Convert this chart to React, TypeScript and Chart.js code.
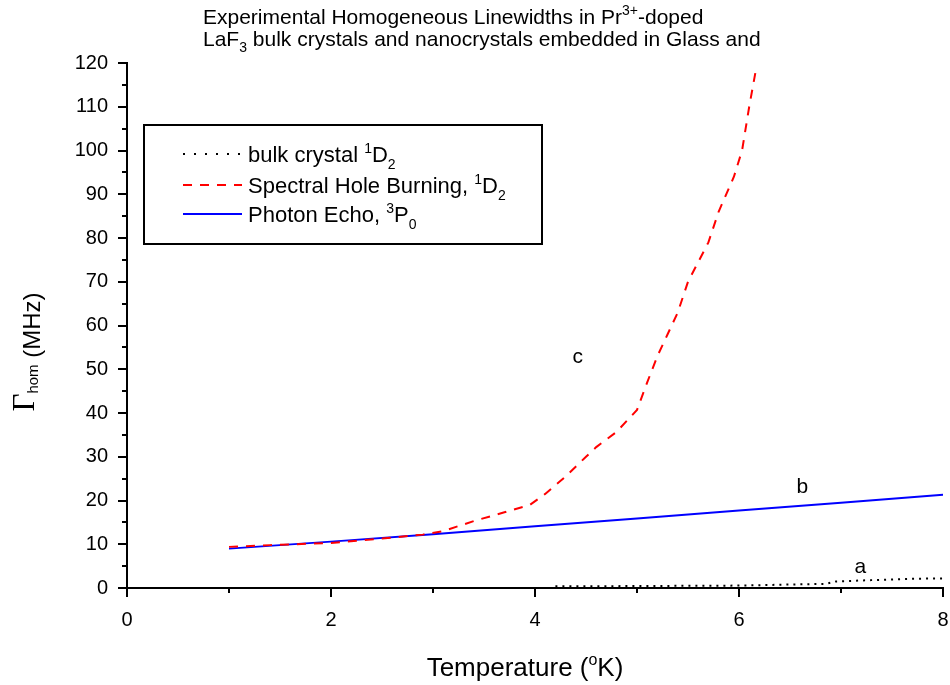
import React, { useEffect, useRef } from 'react';
import { Chart, registerables } from 'chart.js';

Chart.register(...registerables);

// ---- Data ----
const bulkT = [4.2, 4.6, 5.0, 5.5, 6.0, 6.4, 6.85, 6.95, 7.3, 7.7, 8.0];
const bulkG = [0.4, 0.4, 0.45, 0.5, 0.55, 0.75, 0.95, 1.5, 1.8, 2.1, 2.2];

const shbT = [1.0, 1.4, 2.0, 2.5, 2.9, 3.1, 3.4, 3.7, 3.95, 4.1, 4.3, 4.5, 4.6, 4.8, 5.0, 5.1, 5.2, 5.3, 5.4, 5.5, 5.6, 5.7, 5.8, 5.95, 6.03, 6.1, 6.17];
const shbG = [9.4, 9.8, 10.3, 11.3, 12.2, 13.0, 15.3, 17.3, 19.0, 21.5, 25.5, 30.0, 32.2, 35.7, 40.7, 47.0, 53.0, 58.0, 63.0, 70.0, 74.5, 79.0, 86.0, 94.0, 100.0, 110.0, 119.0];

const peT = [1.0, 2.0, 3.0, 4.0, 5.0, 6.0, 7.0, 8.0];
const peG = [9.0, 10.6, 12.3, 14.1, 15.9, 17.7, 19.5, 21.3];

const xMajorTicks = [0, 2, 4, 6, 8];
const xMinorTicks = [1, 3, 5, 7];
const yMajorTicks = [0, 10, 20, 30, 40, 50, 60, 70, 80, 90, 100, 110, 120];
const yMinorTicks = [5, 15, 25, 35, 45, 55, 65, 75, 85, 95, 105, 115];

const curveLabels = ['a', 'b', 'c'];
const curveLabelT = [7.19, 6.62, 4.42];
const curveLabelG = [4.8, 23.1, 52.8];

const SANS = '"Liberation Sans", Arial, sans-serif';
const SERIF = '"Liberation Serif", "Times New Roman", serif';

type Part = { t: string; s?: 'sup' | 'sub'; size?: number; family?: string };

function measureRich(ctx: CanvasRenderingContext2D, parts: Part[], size: number, family = SANS) {
  let w = 0;
  for (const p of parts) {
    const fs = p.size ?? (p.s ? Math.round(size * 0.62) : size);
    ctx.font = `${fs}px ${p.family ?? family}`;
    w += ctx.measureText(p.t).width;
  }
  return w;
}

function drawRich(ctx: CanvasRenderingContext2D, x: number, y: number, parts: Part[], size: number, family = SANS) {
  let cx = x;
  ctx.textAlign = 'left';
  ctx.textBaseline = 'alphabetic';
  for (const p of parts) {
    const fs = p.size ?? (p.s ? Math.round(size * 0.62) : size);
    ctx.font = `${fs}px ${p.family ?? family}`;
    let dy = 0;
    if (p.s === 'sup') dy = -size * 0.42;
    if (p.s === 'sub') dy = size * 0.3;
    ctx.fillText(p.t, cx, y + dy);
    cx += ctx.measureText(p.t).width;
  }
  return cx - x;
}

const decorPlugin = {
  id: 'decor',
  afterDraw(chart: any) {
    const ctx: CanvasRenderingContext2D = chart.ctx;
    const xs = chart.scales.x;
    const ys = chart.scales.y;
    const left = chart.chartArea.left;
    const bottom = chart.chartArea.bottom;
    ctx.save();
    ctx.strokeStyle = '#000';
    ctx.fillStyle = '#000';
    ctx.lineWidth = 2;
    ctx.setLineDash([]);
    // ticks
    ctx.beginPath();
    for (const v of yMajorTicks) {
      const p = Math.round(ys.getPixelForValue(v));
      ctx.moveTo(left - 9, p);
      ctx.lineTo(left, p);
    }
    for (const v of yMinorTicks) {
      const p = Math.round(ys.getPixelForValue(v));
      ctx.moveTo(left - 5, p);
      ctx.lineTo(left, p);
    }
    for (const v of xMajorTicks) {
      const p = Math.round(xs.getPixelForValue(v));
      ctx.moveTo(p, bottom);
      ctx.lineTo(p, bottom + 9);
    }
    for (const v of xMinorTicks) {
      const p = Math.round(xs.getPixelForValue(v));
      ctx.moveTo(p, bottom);
      ctx.lineTo(p, bottom + 5);
    }
    ctx.stroke();

    // title
    drawRich(ctx, 203, 24, [
      { t: 'Experimental Homogeneous Linewidths in Pr' },
      { t: '3+', s: 'sup', size: 14 },
      { t: '-doped' },
    ], 21);
    drawRich(ctx, 203, 46, [
      { t: 'LaF' },
      { t: '3', s: 'sub', size: 14 },
      { t: ' bulk crystals and nanocrystals embedded in Glass and' },
    ], 21);

    // x axis title
    const xParts: Part[] = [{ t: 'Temperature (' }, { t: 'o', s: 'sup' }, { t: 'K)' }];
    const xw = measureRich(ctx, xParts, 26);
    drawRich(ctx, 525 - xw / 2, 676, xParts, 26);

    // y axis title (rotated)
    const yParts: Part[] = [
      { t: '\u0393', size: 31, family: SERIF },
      { t: 'hom', size: 15 },
      { t: ' (MHz)', size: 24 },
    ];
    const yOff = [-6, -2, 0];
    ctx.save();
    const yw = measureRich(ctx, yParts, 24);
    ctx.translate(40, 352 + yw / 2);
    ctx.rotate(-Math.PI / 2);
    let cx = 0;
    yParts.forEach((p, i) => {
      ctx.font = `${p.size}px ${p.family ?? SANS}`;
      ctx.fillText(p.t, cx, yOff[i]);
      cx += ctx.measureText(p.t).width;
    });
    ctx.restore();

    // curve labels
    ctx.font = `21px ${SANS}`;
    ctx.textAlign = 'center';
    ctx.textBaseline = 'middle';
    curveLabels.forEach((l, i) => {
      ctx.fillText(l, xs.getPixelForValue(curveLabelT[i]), ys.getPixelForValue(curveLabelG[i]));
    });

    // legend box
    ctx.lineWidth = 2;
    ctx.strokeStyle = '#000';
    ctx.strokeRect(144, 125, 398, 119);
    const rows = [
      { y: 154, color: '#000', dash: [2, 9], parts: [{ t: 'bulk crystal ' }, { t: '1', s: 'sup' }, { t: 'D' }, { t: '2', s: 'sub' }] as Part[] },
      { y: 185, color: '#ff0000', dash: [9, 8], parts: [{ t: 'Spectral Hole Burning, ' }, { t: '1', s: 'sup' }, { t: 'D' }, { t: '2', s: 'sub' }] as Part[] },
      { y: 214, color: '#0000ff', dash: [], parts: [{ t: 'Photon Echo, ' }, { t: '3', s: 'sup' }, { t: 'P' }, { t: '0', s: 'sub' }] as Part[] },
    ];
    for (const r of rows) {
      ctx.beginPath();
      ctx.strokeStyle = r.color;
      ctx.setLineDash(r.dash);
      ctx.lineWidth = 2;
      ctx.moveTo(183, r.y);
      ctx.lineTo(242, r.y);
      ctx.stroke();
      ctx.setLineDash([]);
      ctx.fillStyle = '#000';
      drawRich(ctx, 248, r.y + 8, r.parts, 22);
    }
    ctx.restore();
  },
};

export default function App() {
  const ref = useRef<HTMLCanvasElement | null>(null);
  useEffect(() => {
    document.body.style.margin = '0';
    const canvas = ref.current;
    if (!canvas) return;
    const toPts = (xa: number[], ya: number[]) => xa.map((x, i) => ({ x, y: ya[i] }));
    const chart = new Chart(canvas, {
      type: 'scatter',
      data: {
        datasets: [
          {
            label: 'bulk crystal 1D2',
            data: toPts(bulkT, bulkG),
            showLine: true,
            borderColor: '#000',
            borderWidth: 2,
            borderDash: [2, 5],
            pointRadius: 0,
            fill: false,
          },
          {
            label: 'Spectral Hole Burning, 1D2',
            data: toPts(shbT, shbG),
            showLine: true,
            borderColor: '#ff0000',
            borderWidth: 2,
            borderDash: [9, 8],
            pointRadius: 0,
            fill: false,
          },
          {
            label: 'Photon Echo, 3P0',
            data: toPts(peT, peG),
            showLine: true,
            borderColor: '#0000ff',
            borderWidth: 2,
            pointRadius: 0,
            fill: false,
          },
        ],
      },
      options: {
        animation: false,
        responsive: false,
        maintainAspectRatio: false,
        layout: { padding: { left: 0, right: 7, top: 63, bottom: 0 } },
        plugins: {
          legend: { display: false },
          tooltip: { enabled: false },
          title: { display: false },
        },
        scales: {
          x: {
            type: 'linear',
            min: 0,
            max: 8,
            ticks: { stepSize: 2, color: '#000', font: { family: SANS, size: 20 }, padding: 20, maxRotation: 0 },
            grid: { display: false, drawTicks: false },
            border: { display: true, color: '#000', width: 2 },
            afterFit: (s: any) => { s.height = 97; s.paddingLeft = 0; s.paddingRight = 0; },
          },
          y: {
            type: 'linear',
            min: 0,
            max: 120,
            ticks: { stepSize: 10, color: '#000', font: { family: SANS, size: 20 }, padding: 19 },
            grid: { display: false, drawTicks: false },
            border: { display: true, color: '#000', width: 2 },
            afterFit: (s: any) => { s.width = 127; s.paddingTop = 0; s.paddingBottom = 0; },
          },
        },
      },
      plugins: [decorPlugin],
    });
    return () => chart.destroy();
  }, []);
  return (
    <div style={{ width: 950, height: 685, background: '#fff' }}>
      <canvas ref={ref} width={950} height={685} style={{ display: 'block' }} />
    </div>
  );
}
